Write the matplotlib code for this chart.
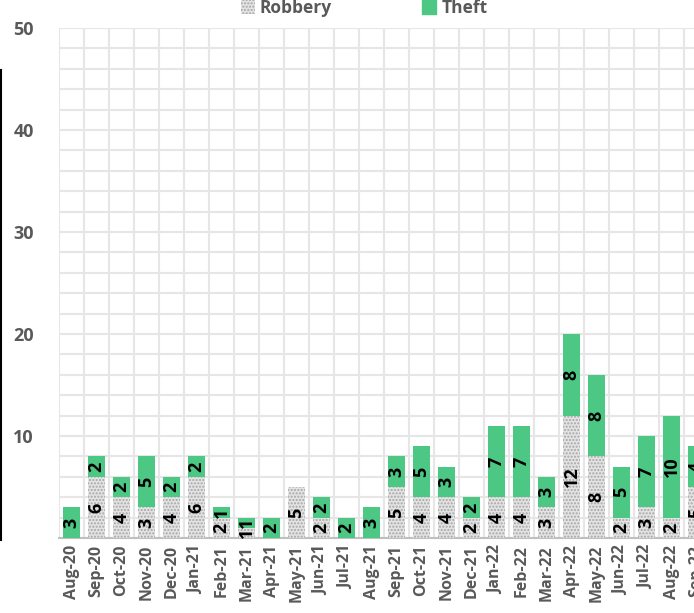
import matplotlib
matplotlib.use('Agg')
import matplotlib.pyplot as plt
from matplotlib.lines import Line2D
from matplotlib.patches import Patch
import numpy as np

plt.rcParams['font.family'] = ['Open Sans', 'DejaVu Sans']
plt.rcParams['hatch.color'] = '#a6a6a6'
plt.rcParams['hatch.linewidth'] = 1.0

months = ['Aug-20', 'Sep-20', 'Oct-20', 'Nov-20', 'Dec-20', 'Jan-21', 'Feb-21',
          'Mar-21', 'Apr-21', 'May-21', 'Jun-21', 'Jul-21', 'Aug-21', 'Sep-21',
          'Oct-21', 'Nov-21', 'Dec-21', 'Jan-22', 'Feb-22', 'Mar-22', 'Apr-22',
          'May-22', 'Jun-22', 'Jul-22', 'Aug-22', 'Sep-22']
robbery = [0, 6, 4, 3, 4, 6, 2, 1, 0, 5, 2, 0, 0, 5, 4, 4, 2, 4, 4, 3, 12, 8, 2, 3, 2, 5]
theft = [3, 2, 2, 5, 2, 2, 1, 1, 2, 0, 2, 2, 3, 3, 5, 3, 2, 7, 7, 3, 8, 8, 5, 7, 10, 4]

green = '#4cc784'
grey_text = '#595959'

fig = plt.figure(figsize=(6.94, 6.13), dpi=100)
# axes runs past the right edge, the source picture is cropped there
ax = fig.add_axes([59 / 694, 75 / 613, 650 / 694, 510 / 613])

x = np.arange(len(months))
w = 0.68
ax.bar(x, robbery, width=w, color='#e3e3e3', hatch='.....',
       edgecolor='#a6a6a6', linewidth=0, zorder=3)
ax.bar(x, theft, width=w, bottom=robbery, color=green,
       edgecolor=green, linewidth=0, zorder=3)

# value labels inside each segment
for i in range(len(months)):
    if robbery[i] > 0:
        ax.text(x[i], robbery[i] / 2, str(robbery[i]), rotation=90,
                ha='center', va='center', fontsize=13, fontweight='bold',
                color='black', zorder=4)
    if theft[i] > 0:
        ax.text(x[i], robbery[i] + theft[i] / 2, str(theft[i]), rotation=90,
                ha='center', va='center', fontsize=13, fontweight='bold',
                color='black', zorder=4)

ax.set_xlim(-0.5, len(months) - 0.5)
ax.set_ylim(0, 50)
ax.set_yticks([10, 20, 30, 40, 50])
ax.set_yticks(np.arange(0, 51, 2), minor=True)
ax.set_xticks(x)
ax.set_xticks(np.arange(-0.5, len(months), 1), minor=True)
ax.set_xticklabels(months, rotation=90, fontsize=11.5, fontweight='bold', color=grey_text)
for lab in ax.get_yticklabels():
    lab.set_fontsize(13)
    lab.set_fontweight('bold')
    lab.set_color(grey_text)

ax.tick_params(axis='both', which='both', length=0)
ax.tick_params(axis='y', pad=18)
ax.tick_params(axis='x', pad=5)

ax.grid(which='minor', color='#e6e6e6', linewidth=1.5, zorder=0)
ax.grid(which='major', axis='y', color='#e6e6e6', linewidth=1.5, zorder=0)
ax.set_axisbelow(True)

for s in ['top', 'right', 'left']:
    ax.spines[s].set_visible(False)
ax.spines['bottom'].set_color('#bfbfbf')
ax.spines['bottom'].set_linewidth(1.5)

handles = [Patch(facecolor='#e3e3e3', hatch='.....', edgecolor='#a6a6a6', linewidth=0),
           Patch(facecolor=green, edgecolor=green)]
fig.legend(handles, ['Robbery', 'Theft'], loc='center', bbox_to_anchor=(364 / 694, 1 - 8 / 613),
           ncol=2, frameon=False, handlelength=0.8, handleheight=0.8, columnspacing=5.2,
           handletextpad=0.3, prop={'weight': 'bold', 'size': 12.5}, labelcolor=grey_text)

# black border edge at far left, cropped from the source
fig.add_artist(Line2D([1 / 694, 1 / 694], [1 - 70 / 613, 1 - 540 / 613],
                      color='black', linewidth=1.5, transform=fig.transFigure))

fig.savefig('out.png', dpi=100)
plt.close(fig)
